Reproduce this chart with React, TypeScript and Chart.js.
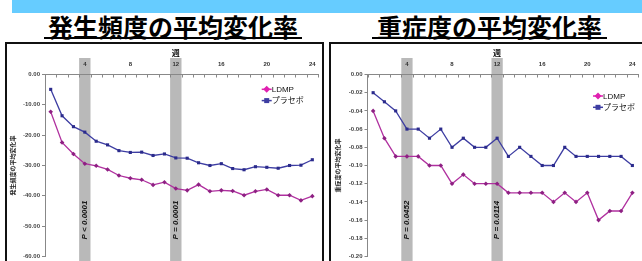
import React, { useEffect, useRef } from "react";
import { Chart, registerables } from "chart.js";

Chart.register(...registerables);

// ---------- data ----------
const weeks = ["1", "2", "3", "4", "5", "6", "7", "8", "9", "10", "11", "12", "13", "14", "15", "16", "17", "18", "19", "20", "21", "22", "23", "24"];
const weekTickLabels = ["4", "8", "12", "16", "20", "24"];
const bandWeeks = ["4", "12"];

const freqLDMP = [-12.3, -22.4, -26.2, -29.4, -30.1, -31.3, -33.3, -34.2, -34.7, -36.4, -35.5, -37.6, -38.2, -36.3, -38.5, -38.2, -38.4, -39.8, -38.5, -37.9, -39.8, -39.8, -41.5, -40.1];
const freqPlacebo = [-4.9, -13.6, -17.2, -19.0, -22.0, -23.2, -25.1, -25.7, -25.6, -26.7, -26.2, -27.5, -27.6, -29.1, -30.0, -29.4, -31.0, -31.4, -30.4, -30.6, -30.9, -30.0, -29.9, -28.1];
const sevLDMP = [-0.04, -0.07, -0.09, -0.09, -0.09, -0.10, -0.10, -0.12, -0.11, -0.12, -0.12, -0.12, -0.13, -0.13, -0.13, -0.13, -0.14, -0.13, -0.14, -0.13, -0.16, -0.15, -0.15, -0.13];
const sevPlacebo = [-0.02, -0.03, -0.04, -0.06, -0.06, -0.07, -0.06, -0.08, -0.07, -0.08, -0.08, -0.07, -0.09, -0.08, -0.09, -0.10, -0.10, -0.08, -0.09, -0.09, -0.09, -0.09, -0.09, -0.10];

const freqPValues = ["P < 0.0001", "P = 0.0001"];
const sevPValues = ["P = 0.0452", "P = 0.0114"];

const seriesNames = ["LDMP", "プラセボ"];
const xAxisTitle = "週";
const leftTitle = "発生頻度の平均変化率";
const rightTitle = "重症度の平均変化率";

const LDMP_LINE = "#b0309f";
const LDMP_POINT = "#8e2083";
const LDMP_LEGEND = "#e020b0";
const PLC_LINE = "#3d3da2";
const PLC_POINT = "#2b2b8c";

const FONT = "'Liberation Sans', 'Noto Sans CJK JP', sans-serif";
const CJK = "'Noto Sans CJK JP', sans-serif";

type Cfg = {
  ldmp: number[];
  placebo: number[];
  min: number;
  max: number;
  step: number;
  yTitle: string;
  pValues: string[];
  yAxisWidth: number;
  padRight: number;
  legendX: number;
  legendY: number;
};

function makeExtras(cfg: Cfg) {
  return {
    id: "extras",
    beforeDraw(chart: any) {
      const ctx = chart.ctx;
      const xs = chart.scales.x;
      const cw = xs.getPixelForValue(1) - xs.getPixelForValue(0);
      ctx.save();
      ctx.fillStyle = "#b9b9b9";
      bandWeeks.forEach((w) => {
        const cx = xs.getPixelForValue(weeks.indexOf(w));
        ctx.fillRect(cx - cw / 2, 14, cw, chart.height - 14);
      });
      ctx.restore();
    },
    afterDraw(chart: any) {
      const ctx = chart.ctx;
      const xs = chart.scales.x;
      const area = chart.chartArea;
      const cw = xs.getPixelForValue(1) - xs.getPixelForValue(0);
      ctx.save();
      // inward tick marks on top axis
      ctx.strokeStyle = "#888";
      ctx.lineWidth = 1;
      for (let i = 0; i <= weeks.length; i++) {
        const x = Math.round(area.left + i * cw) + 0.5;
        ctx.beginPath();
        ctx.moveTo(x, area.top);
        ctx.lineTo(x, area.top + 3);
        ctx.stroke();
      }
      // axis title 週
      ctx.fillStyle = "#111";
      ctx.font = `bold 8px ${CJK}`;
      ctx.textAlign = "center";
      ctx.textBaseline = "middle";
      ctx.fillText(xAxisTitle, xs.getPixelForValue(weeks.indexOf("12")), 9);
      // P values
      ctx.font = `italic bold 8px ${FONT}`;
      bandWeeks.forEach((w, i) => {
        const cx = xs.getPixelForValue(weeks.indexOf(w));
        ctx.save();
        ctx.translate(cx, 176);
        ctx.rotate(-Math.PI / 2);
        ctx.fillText(cfg.pValues[i], 0, 0);
        ctx.restore();
      });
      // legend
      const rows = [
        { name: seriesNames[0], color: LDMP_LEGEND, style: "diamond" },
        { name: seriesNames[1], color: PLC_LINE, style: "square" },
      ];
      rows.forEach((r, i) => {
        const y = cfg.legendY + i * 11.3;
        const x = cfg.legendX;
        ctx.strokeStyle = r.color;
        ctx.fillStyle = r.color;
        ctx.lineWidth = 1.5;
        ctx.beginPath();
        ctx.moveTo(x - 5, y);
        ctx.lineTo(x + 5, y);
        ctx.stroke();
        if (r.style === "diamond") {
          ctx.beginPath();
          ctx.moveTo(x, y - 3.5);
          ctx.lineTo(x + 3.5, y);
          ctx.lineTo(x, y + 3.5);
          ctx.lineTo(x - 3.5, y);
          ctx.closePath();
          ctx.fill();
        } else {
          ctx.fillRect(x - 2.5, y - 2.5, 5, 5);
        }
        ctx.fillStyle = "#111";
        ctx.font = `8px ${FONT}`;
        ctx.textAlign = "left";
        ctx.textBaseline = "middle";
        ctx.fillText(r.name, x + 5, y + 0.5);
      });
      ctx.restore();
    },
  };
}

function LineChart({ cfg, width, height, left, top }: { cfg: Cfg; width: number; height: number; left: number; top: number }) {
  const ref = useRef<HTMLCanvasElement | null>(null);
  useEffect(() => {
    if (!ref.current) return;
    const chart = new Chart(ref.current, {
      type: "line",
      data: {
        labels: weeks,
        datasets: [
          {
            label: seriesNames[0],
            data: cfg.ldmp,
            borderColor: LDMP_LINE,
            backgroundColor: LDMP_POINT,
            pointBackgroundColor: LDMP_POINT,
            pointBorderColor: LDMP_POINT,
            pointStyle: "rectRot",
            pointRadius: 2.3,
            pointBorderWidth: 0,
            borderWidth: 1.3,
            tension: 0,
            clip: false as any,
          },
          {
            label: seriesNames[1],
            data: cfg.placebo,
            borderColor: PLC_LINE,
            backgroundColor: PLC_POINT,
            pointBackgroundColor: PLC_POINT,
            pointBorderColor: PLC_POINT,
            pointStyle: "rect",
            pointRadius: 2.2,
            pointBorderWidth: 0,
            borderWidth: 1.3,
            tension: 0,
            clip: false as any,
          },
        ],
      },
      options: {
        animation: false,
        responsive: false,
        devicePixelRatio: 1,
        layout: { padding: { left: 0, top: 0, right: cfg.padRight, bottom: 4.5 } },
        plugins: { legend: { display: false }, tooltip: { enabled: false } },
        scales: {
          x: {
            type: "category",
            position: "top",
            offset: true,
            grid: { display: true, drawOnChartArea: false, drawTicks: false, offset: true },
            border: { display: true, color: "#888", width: 1 },
            ticks: {
              autoSkip: false,
              maxRotation: 0,
              minRotation: 0,
              padding: 7,
              color: "#333",
              font: { size: 6, weight: "bold", family: FONT },
              callback: (_v: any, i: number) => (weekTickLabels.includes(weeks[i]) ? weeks[i] : ""),
            },
            afterFit: (s: any) => {
              s.height = 30.5;
              s.paddingLeft = 0;
              s.paddingRight = 0;
            },
          },
          y: {
            min: cfg.min,
            max: cfg.max,
            ticks: {
              stepSize: cfg.step,
              padding: 2,
              color: "#444",
              font: { size: 6, weight: "bold", family: FONT },
              callback: (v: any) => Number(v).toFixed(2),
            },
            grid: { drawOnChartArea: false, drawTicks: true, tickLength: 3, color: "#888" },
            border: { display: true, color: "#888", width: 1 },
            title: { display: true, text: cfg.yTitle, color: "#222", padding: 3.4, font: { size: 6, weight: "bold", family: CJK } },
            afterFit: (s: any) => {
              s.width = cfg.yAxisWidth;
              s.paddingTop = 0;
              s.paddingBottom = 0;
            },
          },
        },
      } as any,
      plugins: [makeExtras(cfg)],
    });
    return () => chart.destroy();
  }, []);
  return <canvas ref={ref} width={width} height={height} style={{ position: "absolute", left, top, width, height }} />;
}

const freqCfg: Cfg = {
  ldmp: freqLDMP,
  placebo: freqPlacebo,
  min: -60,
  max: 0,
  step: 10,
  yTitle: leftTitle,
  pValues: freqPValues,
  yAxisWidth: 39,
  padRight: 3.4,
  legendX: 260.7,
  legendY: 45.3,
};

const sevCfg: Cfg = {
  ldmp: sevLDMP,
  placebo: sevPlacebo,
  min: -0.2,
  max: 0,
  step: 0.02,
  yTitle: rightTitle,
  pValues: sevPValues,
  yAxisWidth: 36.5,
  padRight: 2.1,
  legendX: 267,
  legendY: 52,
};

export default function App() {
  const titleStyle: React.CSSProperties = {
    position: "absolute",
    top: 14,
    fontFamily: CJK,
    fontWeight: 700,
    fontSize: 25,
    lineHeight: "25px",
    color: "#000",
    textAlign: "center",
    whiteSpace: "nowrap",
  };
  return (
    <div style={{ position: "fixed", left: 0, top: 0, width: 642, height: 261, overflow: "hidden", background: "#fff" }}>
      <div style={{ position: "absolute", left: 12, top: 0, width: 630, height: 13, background: "#66ccff" }} />
      <div style={{ ...titleStyle, left: 44, width: 258 }}>{leftTitle}</div>
      <div style={{ position: "absolute", left: 44, top: 37, width: 258, height: 2, background: "#000" }} />
      <div style={{ ...titleStyle, left: 372, width: 235 }}>{rightTitle}</div>
      <div style={{ position: "absolute", left: 372, top: 37, width: 235, height: 2, background: "#000" }} />
      <div style={{ position: "absolute", left: 5, top: 42, width: 315, height: 240, border: "2px solid #111" }} />
      <div style={{ position: "absolute", left: 329, top: 42, width: 330, height: 240, border: "2px solid #111" }} />
      <LineChart cfg={freqCfg} width={316} height={217} left={6} top={44} />
      <LineChart cfg={sevCfg} width={311} height={217} left={331} top={44} />
    </div>
  );
}
